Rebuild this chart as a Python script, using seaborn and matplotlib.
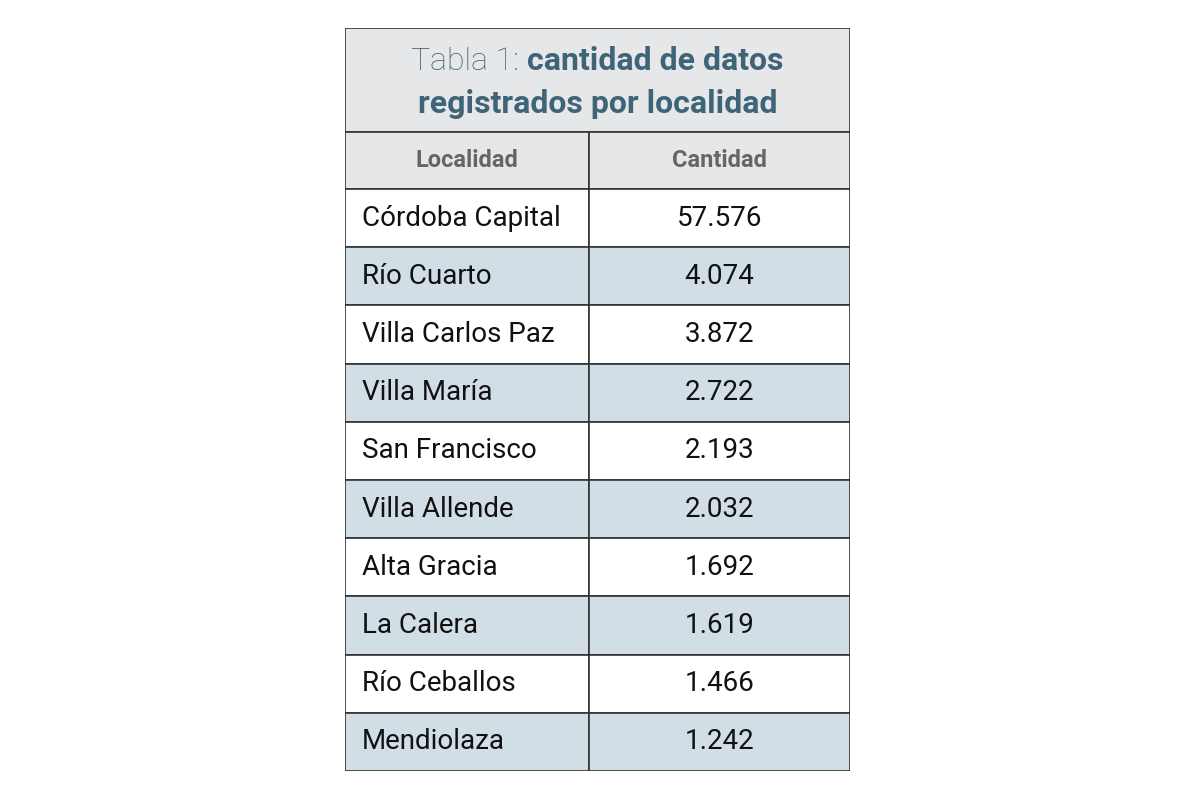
import matplotlib
matplotlib.use("Agg")
import matplotlib.pyplot as plt
import seaborn as sns

localidades = ["Córdoba Capital", "Río Cuarto", "Villa Carlos Paz", "Villa María",
               "San Francisco", "Villa Allende", "Alta Gracia", "La Calera",
               "Río Ceballos", "Mendiolaza"]
cantidades = ["57.576", "4.074", "3.872", "2.722", "2.193", "2.032", "1.692",
              "1.619", "1.466", "1.242"]
encabezados = ["Localidad", "Cantidad"]
titulo_light = "Tabla 1: "
titulo_bold = ["cantidad de datos", "registrados por localidad"]

sns.set_theme(style="white")
plt.rcParams["font.family"] = ["Liberation Sans Narrow", "Roboto", "DejaVu Sans"]

TEAL = "#3f6478"
GRAY_BG = "#e6e7e8"
BLUE_BG = "#d2dee5"
EDGE = "#333333"

fig = plt.figure(figsize=(12, 8), dpi=100)
ax = fig.add_axes([345 / 1200, 1 - 771 / 800, 505 / 1200, 743 / 800])
W, H = 505, 743
col_split = 244
title_h, head_h = 104, 57
row_h = (H - title_h - head_h) / len(localidades)
ax.set_xlim(0, W)
ax.set_ylim(H, 0)
ax.axis("off")

# title band
ax.barh(title_h / 2, W, height=title_h, left=0, color=GRAY_BG, edgecolor=EDGE, linewidth=1.2)
# header
hy = title_h + head_h / 2
ax.barh(hy, col_split, height=head_h, left=0, color=GRAY_BG, edgecolor=EDGE, linewidth=1.2)
ax.barh(hy, W - col_split, height=head_h, left=col_split, color=GRAY_BG, edgecolor=EDGE, linewidth=1.2)
ax.text(col_split / 2, hy, encabezados[0], ha="center", va="center", fontsize=17, color="#666666", fontweight="bold")
ax.text(col_split + (W - col_split) / 2, hy, encabezados[1], ha="center", va="center", fontsize=17, color="#666666", fontweight="bold")

for i, (loc, cant) in enumerate(zip(localidades, cantidades)):
    yc = title_h + head_h + row_h * (i + 0.5)
    bg = "white" if i % 2 == 0 else BLUE_BG
    ax.barh(yc, col_split, height=row_h, left=0, color=bg, edgecolor=EDGE, linewidth=1.2)
    ax.barh(yc, W - col_split, height=row_h, left=col_split, color=bg, edgecolor=EDGE, linewidth=1.2)
    ax.text(17, yc, loc, ha="left", va="center", fontsize=20, color="#111111")
    ax.text(col_split + (W - col_split) / 2, yc, cant, ha="center", va="center", fontsize=20, color="#111111")

# title text (mixed weight first line)
fig.canvas.draw()
r = fig.canvas.get_renderer()
t1 = ax.text(0, 33, titulo_light, ha="left", va="center", fontsize=23, color=TEAL, fontweight="light")
t2 = ax.text(0, 33, titulo_bold[0], ha="left", va="center", fontsize=23, color=TEAL, fontweight="bold")
w1 = t1.get_window_extent(r).width
w2 = t2.get_window_extent(r).width
px_per_unit = ax.get_window_extent(r).width / W
start = (W - (w1 + w2) / px_per_unit) / 2
t1.set_x(start)
t2.set_x(start + w1 / px_per_unit)
ax.text(W / 2, 76, titulo_bold[1], ha="center", va="center", fontsize=23, color=TEAL, fontweight="bold")

fig.savefig("out.png", dpi=100, facecolor="white")
